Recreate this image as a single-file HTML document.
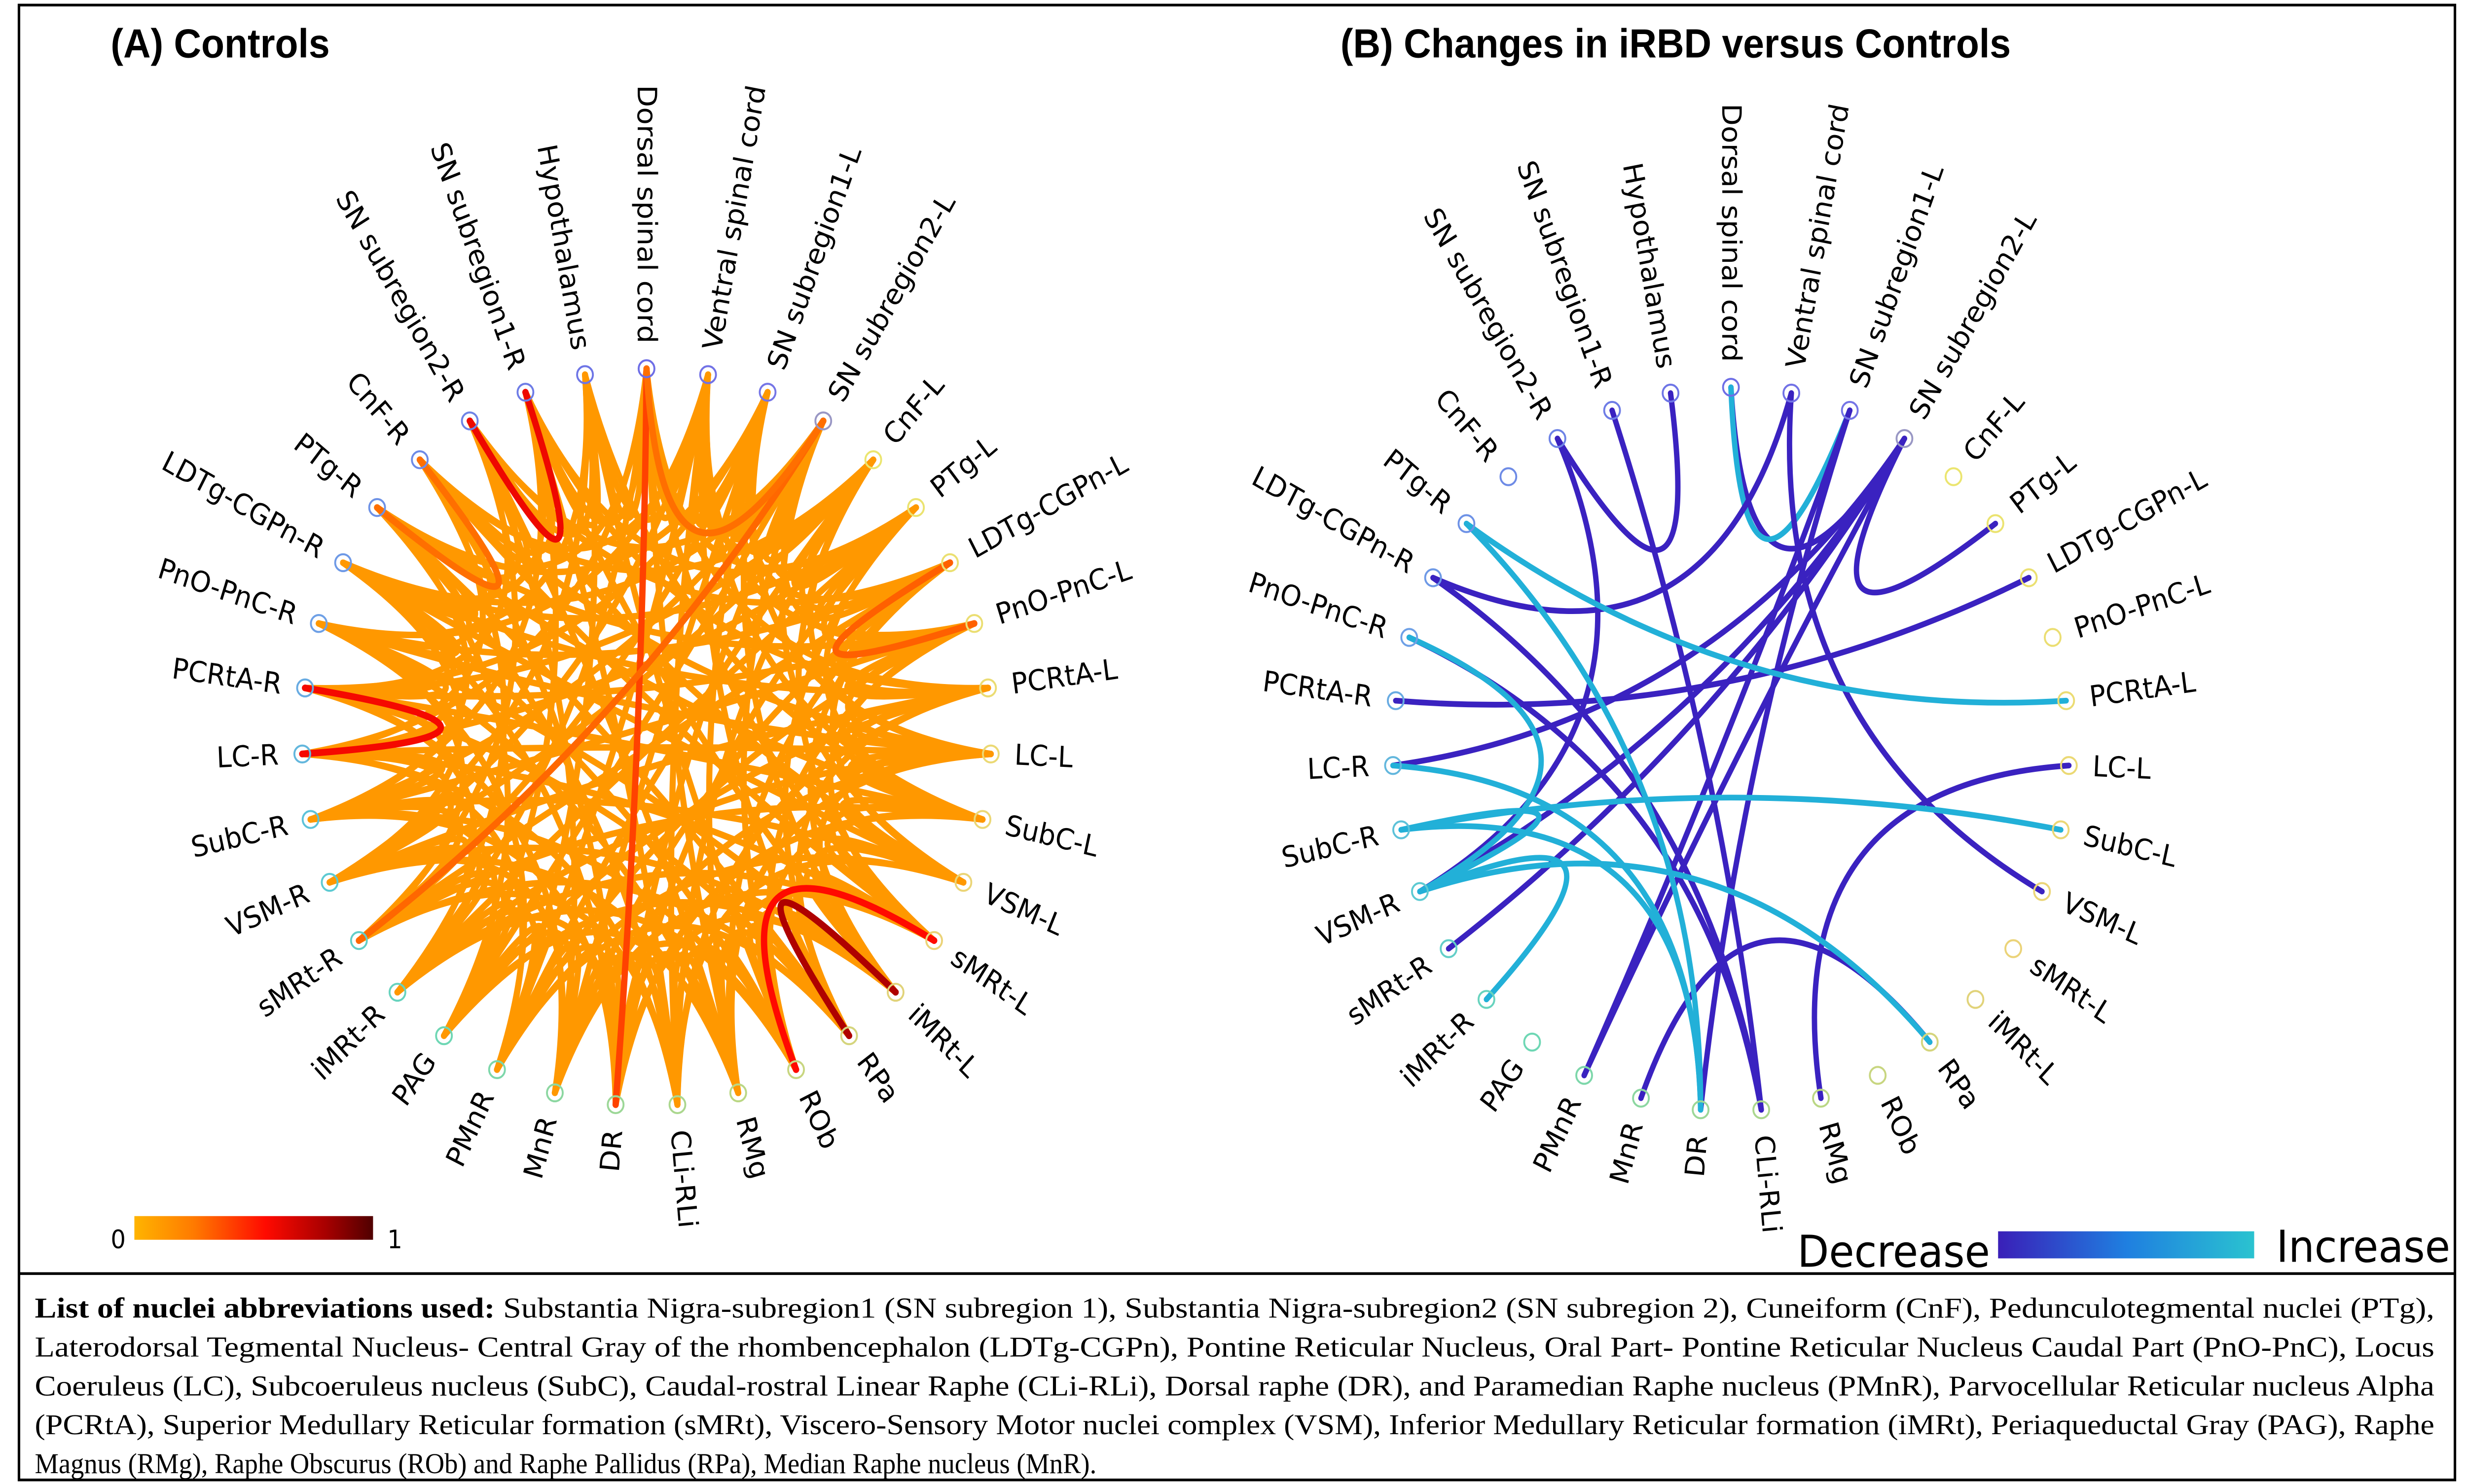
<!DOCTYPE html>
<html><head><meta charset="utf-8"><style>
html,body{margin:0;padding:0;background:#fff;width:100%;height:100%;overflow:hidden;}
#fig{position:fixed;left:0;top:0;width:100vw;height:100vh;display:block;}
#fig path{fill:none;}
</style></head><body>
<svg id="fig" viewBox="0 0 1560 877.4" preserveAspectRatio="none" xmlns="http://www.w3.org/2000/svg" font-family="'DejaVu Sans','Liberation Sans',sans-serif">
<defs>
<linearGradient id="heat" x1="0" x2="1" y1="0" y2="0">
<stop offset="0" stop-color="#ffb400"/><stop offset="0.25" stop-color="#ff7a00"/><stop offset="0.55" stop-color="#ff0a00"/><stop offset="0.8" stop-color="#a80000"/><stop offset="1" stop-color="#500000"/>
</linearGradient>
<linearGradient id="cool" x1="0" x2="1" y1="0" y2="0">
<stop offset="0" stop-color="#3a1fb8"/><stop offset="0.5" stop-color="#1f7fe0"/><stop offset="1" stop-color="#2ac3d0"/>
</linearGradient>
</defs>
<rect x="12" y="3" width="1541" height="872" fill="none" stroke="#000" stroke-width="1.6"/>
<line x1="12" y1="753" x2="1553" y2="753" stroke="#000" stroke-width="1.6"/>
<text x="70" y="34" font-family="'Liberation Sans',sans-serif" font-weight="bold" font-size="24">(A) Controls</text>
<text x="848" y="34" font-family="'Liberation Sans',sans-serif" font-weight="bold" font-size="24">(B) Changes in iRBD versus Controls</text>
<g id="panelA"></g>
<g id="panelB"></g>
<g>
<rect x="85" y="719" width="151" height="14" fill="url(#heat)"/>
<text x="70" y="738" font-size="15">0</text>
<text x="245" y="738" font-size="15">1</text>
</g>
<g>
<text x="1137" y="749" font-size="26">Decrease</text>
<rect x="1264" y="728" width="162" height="16" fill="url(#cool)"/>
<text x="1440" y="746" font-size="26">Increase</text>
</g>
<g font-family="'Liberation Serif',serif" font-size="17">
<text x="22" y="779" textLength="1518" lengthAdjust="spacingAndGlyphs"><tspan font-weight="bold">List of nuclei abbreviations used:</tspan> Substantia Nigra-subregion1 (SN subregion 1), Substantia Nigra-subregion2 (SN subregion 2), Cuneiform (CnF), Pedunculotegmental nuclei (PTg),</text>
<text x="22" y="802" textLength="1518" lengthAdjust="spacingAndGlyphs">Laterodorsal Tegmental Nucleus- Central Gray of the rhombencephalon (LDTg-CGPn), Pontine Reticular Nucleus, Oral Part- Pontine Reticular Nucleus Caudal Part (PnO-PnC), Locus</text>
<text x="22" y="825" textLength="1518" lengthAdjust="spacingAndGlyphs">Coeruleus (LC), Subcoeruleus nucleus (SubC), Caudal-rostral Linear Raphe (CLi-RLi), Dorsal raphe (DR), and Paramedian Raphe nucleus (PMnR), Parvocellular Reticular nucleus Alpha</text>
<text x="22" y="848" textLength="1518" lengthAdjust="spacingAndGlyphs">(PCRtA), Superior Medullary Reticular formation (sMRt), Viscero-Sensory Motor nuclei complex (VSM), Inferior Medullary Reticular formation (iMRt), Periaqueductal Gray (PAG), Raphe</text>
<text x="22" y="871">Magnus (RMg), Raphe Obscurus (ROb) and Raphe Pallidus (RPa), Median Raphe nucleus (MnR).</text>
</g>
</svg>
<script>
const nodes = ["Dorsal spinal cord","Ventral spinal cord","SN subregion1-L","SN subregion2-L","CnF-L","PTg-L","LDTg-CGPn-L","PnO-PnC-L","PCRtA-L","LC-L","SubC-L","VSM-L","sMRt-L","iMRt-L","RPa","ROb","RMg","CLi-RLi","DR","MnR","PMnR","PAG","iMRt-R","sMRt-R","VSM-R","SubC-R","LC-R","PCRtA-R","PnO-PnC-R","LDTg-CGPn-R","PTg-R","CnF-R","SN subregion2-R","SN subregion1-R","Hypothalamus"];
// Controls: partner indices (j > i) for each node
const adjA = [
 [1,2,3,5,8,12,16,18,22,26,30,33,34],
 [2,3,4,7,10,14,17,20,24,28,31,34],
 [3,4,6,9,13,16,19,23,27,30],
 [4,5,7,11,15,18,21,23,25,29,32],
 [5,6,9,12,17,20,24,27,31],
 [6,7,10,14,18,22,26,29,33],
 [7,8,11,13,16,19,23,28,32],
 [8,9,12,15,20,25,27,30],
 [9,10,14,17,21,24,29,33],
 [10,11,13,16,19,22,26,28,31],
 [11,12,15,18,23,27,30,34],
 [12,13,17,20,25,29,32],
 [13,14,16,19,22,26,31],
 [14,15,18,21,24,28,33],
 [15,16,20,23,27,30],
 [16,17,19,22,25,29,34],
 [17,18,21,24,28,32],
 [18,19,23,26,30,33],
 [19,20,22,25,29,31],
 [20,21,24,27,32],
 [21,22,26,28,34],
 [22,23,25,30,33],
 [23,24,27,31],
 [24,25,28,32],
 [25,26,29,34],
 [26,27,30,33],
 [27,28,31],
 [28,29,32],
 [29,30,34],
 [30,31,33],
 [31,32],
 [32,33],
 [33,34],
 [34],
 []
];
const baseWeight = 0.12;
const strongA = [
 ["SN subregion2-R","SN subregion1-R",0.6],
 ["PCRtA-R","LC-R",0.58],
 ["iMRt-L","RPa",0.78],
 ["sMRt-L","ROb",0.55],
 ["Dorsal spinal cord","DR",0.4],
 ["sMRt-R","SN subregion2-L",0.3],
 ["Dorsal spinal cord","SN subregion2-L",0.28],
 ["LDTg-CGPn-L","PnO-PnC-L",0.32],
 ["CnF-R","PTg-R",0.28]
];
const edgesBfrom = ["SN subregion2-R","SN subregion2-R","SN subregion1-R","Dorsal spinal cord","Dorsal spinal cord","Ventral spinal cord","Ventral spinal cord","SN subregion1-L","SN subregion2-L","SN subregion2-L","SN subregion2-L","SN subregion2-L","SN subregion2-L","LDTg-CGPn-L","LC-L","MnR","PnO-PnC-R","LDTg-CGPn-R","SN subregion1-L","PTg-R","PTg-R","PnO-PnC-R","LC-R","SubC-R","SubC-R","SubC-R","VSM-R","VSM-R"];
const edgesBto   = ["Hypothalamus","VSM-R","CLi-RLi","SN subregion2-L","SN subregion1-L","LDTg-CGPn-R","VSM-L","DR","PTg-L","VSM-R","sMRt-R","PMnR","LC-R","PCRtA-R","RMg","RPa","CLi-RLi","CLi-RLi","PMnR","PCRtA-L","DR","VSM-R","DR","SubC-L","VSM-R","DR","RPa","iMRt-R"];
const edgesBsign = [-1,-1,-1,-1,1,-1,-1,-1,-1,-1,-1,-1,-1,-1,-1,-1,-1,-1,-1,1,1,1,1,1,1,1,1,1];

const NS="http://www.w3.org/2000/svg";
const N=nodes.length;
function angle(i){return (-90 + i*360/N)*Math.PI/180;}
function pos(c,i,r){const a=angle(i);return [c[0]+r*Math.cos(a),c[1]+r*Math.sin(a)];}
function nodeColor(i){
  const t=i/N;
  const stops=[[0,[110,110,230]],[0.08,[120,120,230]],[0.1,[235,230,110]],[0.35,[235,210,120]],[0.45,[190,215,130]],[0.6,[110,215,180]],[0.7,[90,200,215]],[0.8,[110,160,230]],[1,[110,110,230]]];
  for(let k=0;k<stops.length-1;k++){if(t>=stops[k][0]&&t<=stops[k+1][0]){const f=(t-stops[k][0])/(stops[k+1][0]-stops[k][0]);const a=stops[k][1],b=stops[k+1][1];return `rgb(${a.map((v,j)=>Math.round(v+(b[j]-v)*f)).join(',')})`;}}
  return "#88f";
}
function heat(w){
  const st=[[0,[255,180,0]],[0.25,[255,122,0]],[0.55,[255,10,0]],[0.8,[168,0,0]],[1,[80,0,0]]];
  for(let k=0;k<st.length-1;k++){if(w<=st[k+1][0]){const f=(w-st[k][0])/(st[k+1][0]-st[k][0]);const a=st[k][1],b=st[k+1][1];return `rgb(${a.map((v,j)=>Math.round(v+(b[j]-v)*f)).join(',')})`;}}
  return "rgb(80,0,0)";
}
function chord(g,c,r,i,j,color,w,name){
  const p=pos(c,i,r),q=pos(c,j,r);
  const mx=(p[0]+q[0])/2,my=(p[1]+q[1])/2;
  const cx=c[0]+(mx-c[0])*0.2,cy=c[1]+(my-c[1])*0.2;
  const path=document.createElementNS(NS,"path");
  path.setAttribute("d",`M${p[0].toFixed(2)},${p[1].toFixed(2)} Q${cx.toFixed(2)},${cy.toFixed(2)} ${q[0].toFixed(2)},${q[1].toFixed(2)}`);
  path.setAttribute("fill","none");
  path.style.fill="none";
  path.setAttribute("stroke",color);path.setAttribute("stroke-width",w);
  path.setAttribute("stroke-linecap","round");
  
  
  g.appendChild(path);
}
function drawNodesLabels(g,c,r,lr,prefix){
  nodes.forEach((n,i)=>{
    const p=pos(c,i,r);
    const ci=document.createElementNS(NS,"circle");
    ci.setAttribute("cx",p[0]);ci.setAttribute("cy",p[1]);ci.setAttribute("r",5);
    ci.setAttribute("fill","none");ci.setAttribute("stroke",nodeColor(i));ci.setAttribute("stroke-width",1.2);
    
    
    g.appendChild(ci);
    const a=angle(i)*180/Math.PI;const l=pos(c,i,lr);
    const t=document.createElementNS(NS,"text");
    t.textContent=n;t.setAttribute("font-size","17");
    t.setAttribute("dominant-baseline","central");
    const right = (a>-89 && a<90);
    if(right){t.setAttribute("transform",`translate(${l[0]},${l[1]}) rotate(${a})`);t.setAttribute("text-anchor","start");}
    else{t.setAttribute("transform",`translate(${l[0]},${l[1]}) rotate(${a+180})`);t.setAttribute("text-anchor","end");}
    
    
    g.appendChild(t);
  });
}
// Panel A
(function(){
  const g=document.getElementById("panelA"),c=[409,436],r=218;
  const strongKey={};strongA.forEach(s=>{strongKey[s[0]+"|"+s[1]]=s[2];strongKey[s[1]+"|"+s[0]]=s[2];});
  adjA.forEach((list,i)=>list.forEach(j=>{
    if(strongKey[nodes[i]+"|"+nodes[j]]!==undefined)return;
    chord(g,c,r,i,j,heat(baseWeight),3.8,'control-edge');
  }));
  strongA.forEach(s=>chord(g,c,r,nodes.indexOf(s[0]),nodes.indexOf(s[1]),heat(s[2]),4,'control-strong-edge'));
  drawNodesLabels(g,c,r,r+15,'control');
})();
// Panel B
(function(){
  const g=document.getElementById("panelB"),c=[1095,443],r=214;
  edgesBfrom.forEach((f,k)=>{
    const col=edgesBsign[k]<0?"#3a22c0":"#22b0d8";
    chord(g,c,r,nodes.indexOf(f),nodes.indexOf(edgesBto[k]),col,3.4,edgesBsign[k]<0?'decrease-edge':'increase-edge');
  });
  drawNodesLabels(g,c,r,r+15,'change');
})();
</script>
</body></html>
